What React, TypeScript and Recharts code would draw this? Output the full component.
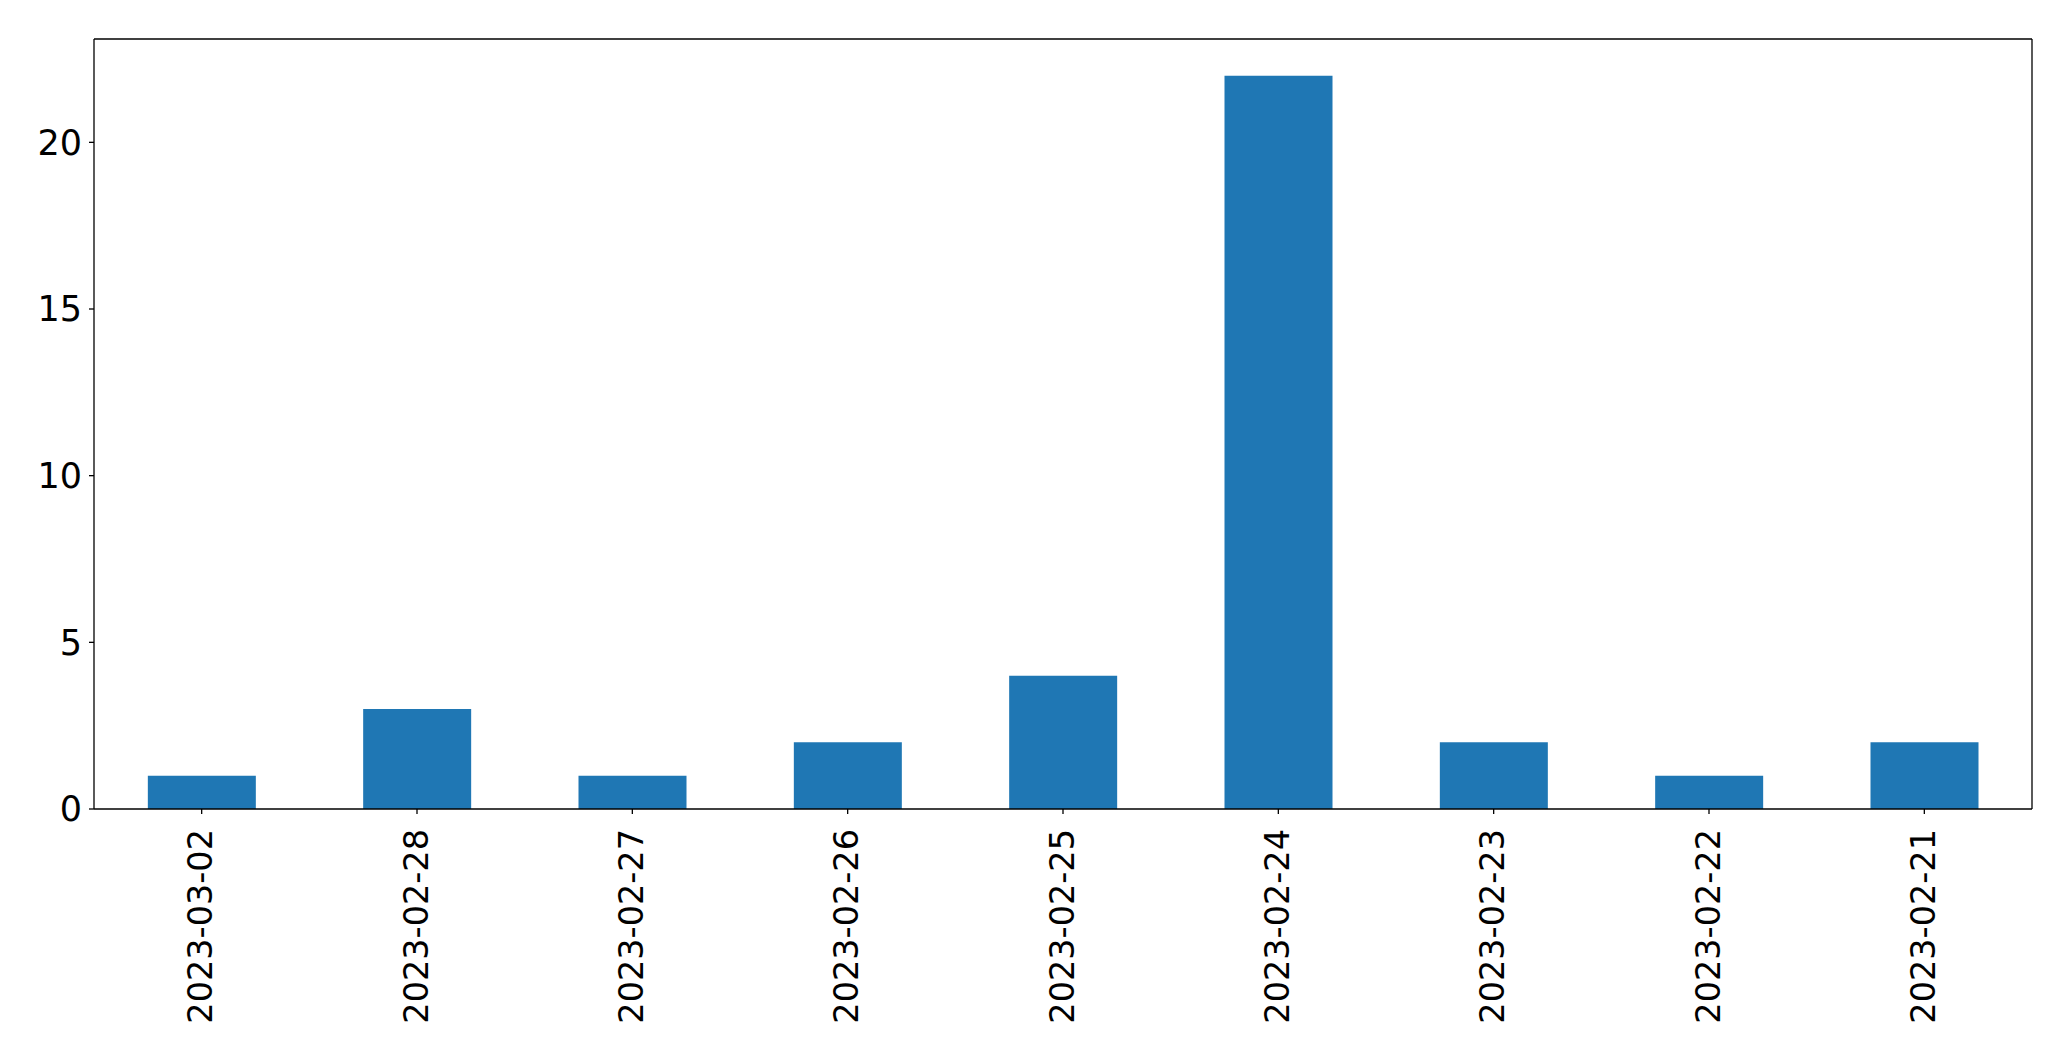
import { Bar, BarChart, XAxis, YAxis } from 'recharts';

const DATES = [
  '2023-03-02',
  '2023-02-28',
  '2023-02-27',
  '2023-02-26',
  '2023-02-25',
  '2023-02-24',
  '2023-02-23',
  '2023-02-22',
  '2023-02-21',
];
const COUNTS = [1, 3, 1, 2, 4, 22, 2, 1, 2];
const Y_TICKS = [0, 5, 10, 15, 20];

const FONT = '"DejaVu Sans", sans-serif';
const LINE = { stroke: '#000', strokeWidth: 1.3 };

const rows = DATES.map((d, i) => ({ date: d, count: COUNTS[i] }));

// rotated date labels, read bottom to top like the original
function DateTick(props: any) {
  const { x, y, payload } = props;
  return (
    <text
      transform={`translate(${x - 1},${y + 13}) rotate(-90)`}
      textAnchor="end"
      dominantBaseline="central"
      fontFamily={FONT}
      fontSize={33.5}
      fill="#000"
    >
      {payload.value}
    </text>
  );
}

export default function App() {
  return (
    <div style={{ position: 'absolute', left: 0, top: 0, background: '#fff' }}>
      <BarChart
        width={2071}
        height={1061}
        data={rows}
        margin={{ top: 38, right: 38, bottom: 0, left: 0 }}
        barCategoryGap="25%"
      >
        <XAxis
          dataKey="date"
          interval={0}
          height={252}
          axisLine={LINE}
          tickLine={LINE}
          tickSize={5}
          tick={<DateTick />}
        />
        <XAxis xAxisId="top" orientation="top" dataKey="date" height={1} axisLine={LINE} tick={false} tickLine={false} />
        <YAxis
          domain={[0, 23.1]}
          ticks={Y_TICKS}
          width={94}
          axisLine={LINE}
          tickLine={LINE}
          tickSize={5}
          tickMargin={7}
          tick={{ fontFamily: FONT, fontSize: 35, fill: '#000' }}
        />
        <YAxis yAxisId="right" orientation="right" domain={[0, 23.1]} width={1} axisLine={LINE} tick={false} tickLine={false} />
        <Bar dataKey="count" fill="#1f77b4" isAnimationActive={false} />
      </BarChart>
    </div>
  );
}
